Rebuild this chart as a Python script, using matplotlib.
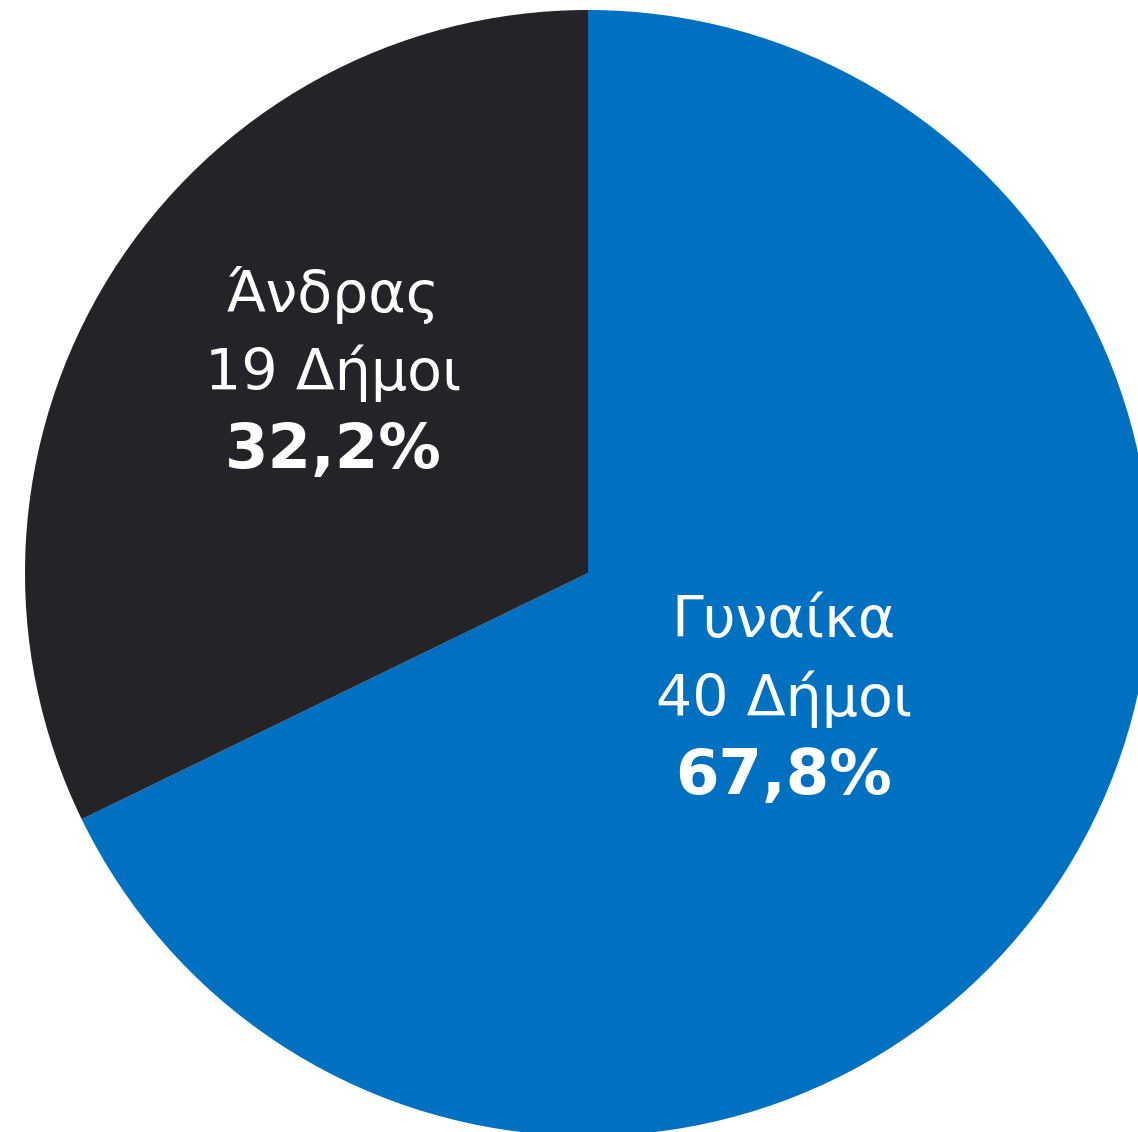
import matplotlib
matplotlib.use("Agg")
import matplotlib.pyplot as plt
import numpy as np

categories = ["Γυναίκα", "Άνδρας"]
counts = [40, 19]
percent_labels = ["67,8%", "32,2%"]
colors = ["#0070C0", "#232328"]
label_radius = [0.41, 0.58]
label_frac = [0.5, 0.443]

W, H = 1138, 1132
fig = plt.figure(figsize=(W / 100, H / 100), dpi=100)
cx, cy, r = 588, 573, 563
ax = fig.add_axes([(cx - r) / W, (H - cy - r) / H, 2 * r / W, 2 * r / H])
wedges, _ = ax.pie(counts, colors=colors, startangle=90, counterclock=False,
                   radius=1.0, wedgeprops=dict(linewidth=0))
ax.set_xlim(-1, 1)
ax.set_ylim(-1, 1)
ax.set_aspect("equal")
ax.axis("off")

fs = 41
line = 78 / r  # data units per line
shift = 4 / r
for w, cat, n, pct, lr, fr in zip(wedges, categories, counts, percent_labels,
                                  label_radius, label_frac):
    ang = np.deg2rad(w.theta1 + fr * (w.theta2 - w.theta1))
    x, y = lr * np.cos(ang), lr * np.sin(ang) - shift
    ax.text(x, y + line, cat, ha="center", va="center", color="white", fontsize=fs)
    ax.text(x, y, f"{n} Δήμοι", ha="center", va="center", color="white", fontsize=fs)
    ax.text(x, y - line, pct, ha="center", va="center", color="white", fontsize=45,
            fontweight="bold")

fig.savefig("out.png", dpi=100)
